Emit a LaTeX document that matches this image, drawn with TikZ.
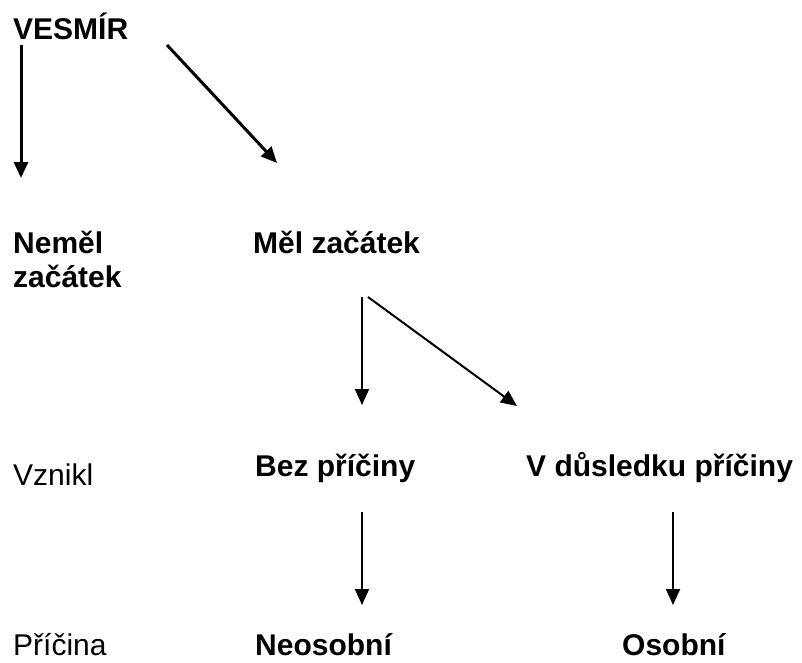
\documentclass[tikz,border=0pt]{standalone}
\usepackage{fontspec}
\setmainfont{Liberation Sans}
\usepackage{tikz}
\usetikzlibrary{arrows.meta}

\begin{document}
\begin{tikzpicture}[x=1pt,y=-1pt]
\tikzset{label/.style = {anchor=base west,inner sep=0pt,font=\fontsize{30}{34.5}\selectfont}}
\tikzset{head/.style = {label,font=\fontsize{30}{34.5}\selectfont\bfseries}}
\tikzset{edge/.style = {-{Triangle[length=16pt,width=14pt]},line width=2pt}}
\useasboundingbox (0,0) rectangle (802,662);
% vertices
\node[head] (vesmir) at (13,39)   {VESMÍR};
\node[head,align=left] (nemel) at (13,287.5) {Neměl\\začátek};
\node[head] (mel)    at (253,253) {Měl začátek};
\node[label] (vznikl) at (13,485) {Vznikl};
\node[head] (bez)    at (255,476) {Bez příčiny};
\node[head] (vdus)   at (526,476) {V důsledku příčiny};
\node[label] (pricina) at (13,655) {Příčina};
\node[head] (neos)   at (255,655) {Neosobní};
\node[head] (osob)   at (622,655) {Osobní};
%edges
\draw[edge,line width=3pt] ([shift={(8,6)}]vesmir.base west) to ([shift={(8,-109.5)}]nemel.base west);
\draw[edge,line width=3pt] ([shift={(154,6)}]vesmir.base west) to ([shift={(24,-90)}]mel.base west);
\draw[edge] ([shift={(109,44)}]mel.base west) to ([shift={(107,-71)}]bez.base west);
\draw[edge] ([shift={(115,44)}]mel.base west) to ([shift={(-9,-70)}]vdus.base west);
\draw[edge] ([shift={(107,36)}]bez.base west) to ([shift={(107,-50)}]neos.base west);
\draw[edge] ([shift={(147,36)}]vdus.base west) to ([shift={(51,-50)}]osob.base west);
\end{tikzpicture}
\end{document}
